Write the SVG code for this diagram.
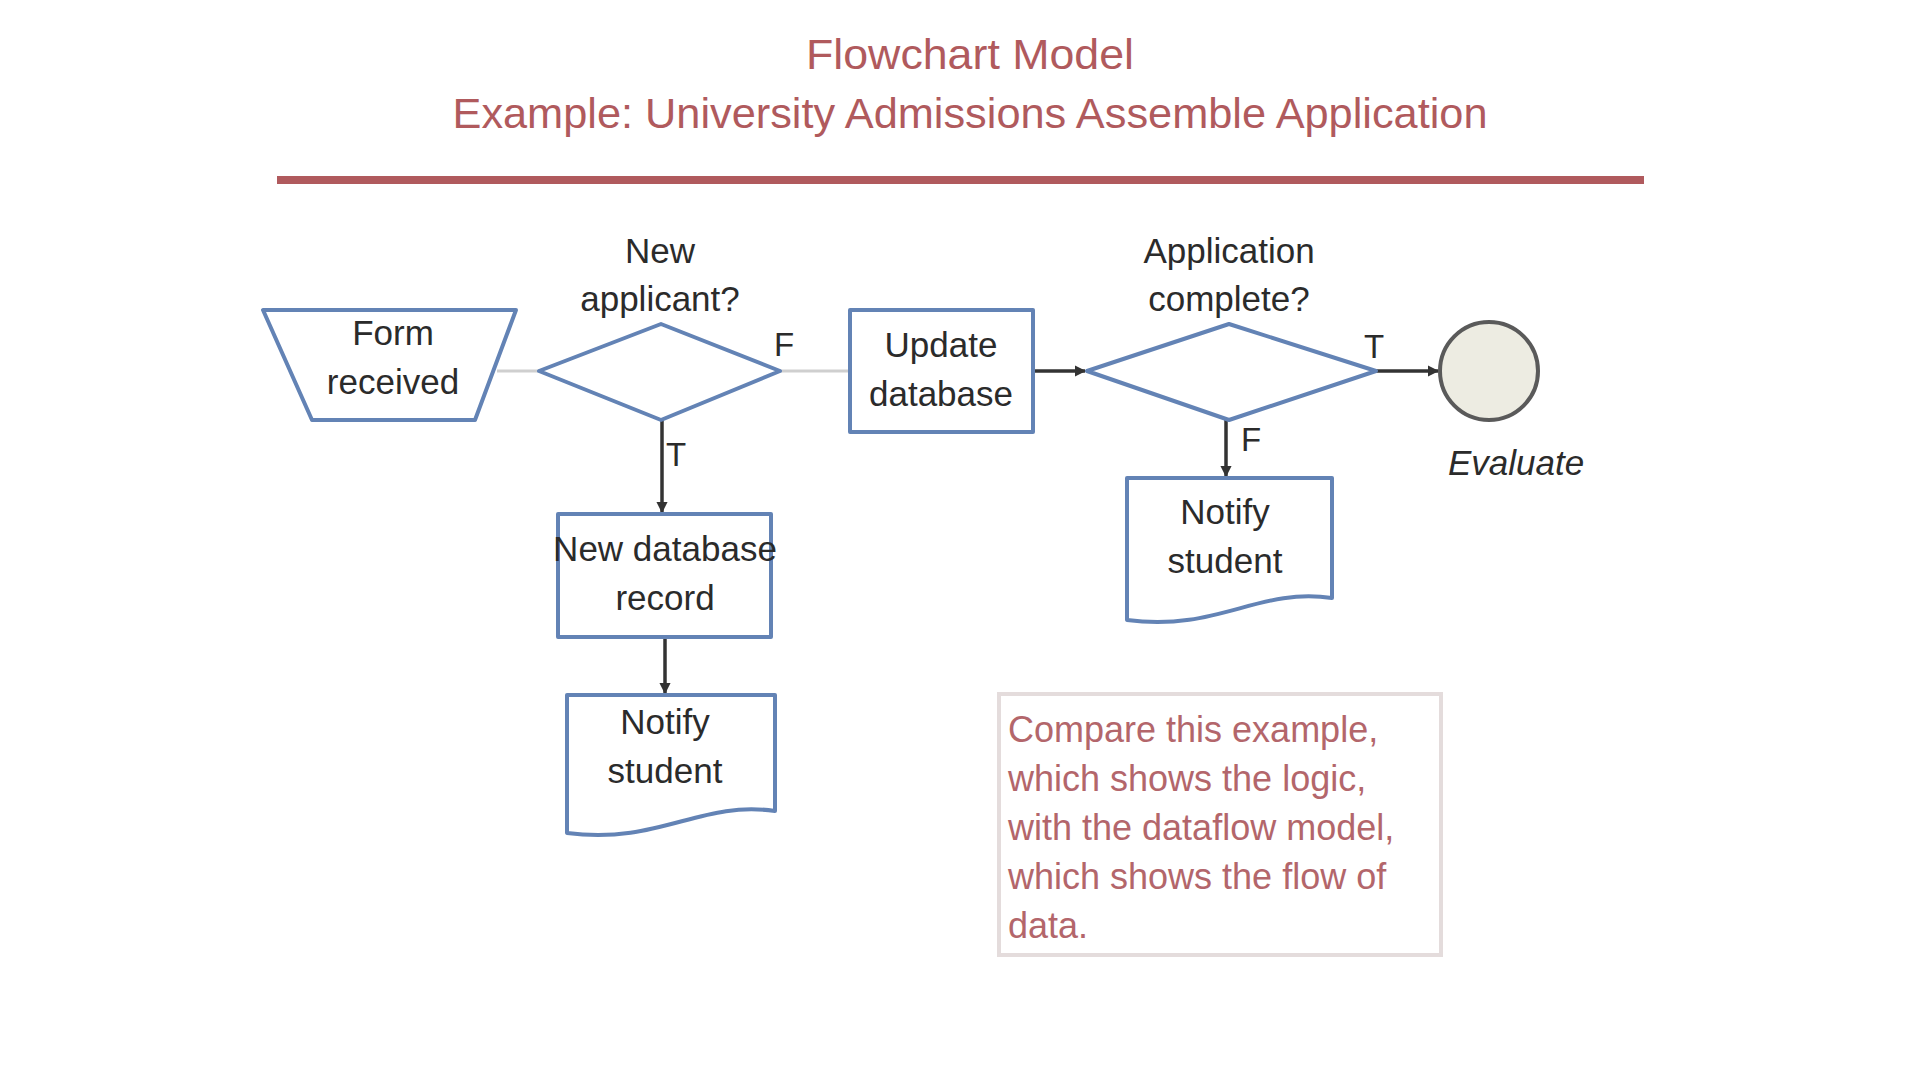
<svg xmlns="http://www.w3.org/2000/svg" width="1920" height="1080" viewBox="0 0 1920 1080">
<style>
.title{font-family:"Liberation Sans",Arial,sans-serif;fill:#b05a5d;text-anchor:middle}
.node{fill:#ffffff;stroke:#6383b5;stroke-width:4;stroke-linejoin:round}
.lbl{font-family:"Liberation Sans",Arial,sans-serif;font-size:35px;fill:#2b2b2b;text-anchor:middle}
.tf{font-family:"Liberation Sans",Arial,sans-serif;font-size:33px;fill:#2b2b2b;text-anchor:middle}
.conn{fill:none;stroke:#333333;stroke-width:3.5}
.conn-light{fill:none;stroke:#cfcfcf;stroke-width:3}
.note{font-family:"Liberation Sans",Arial,sans-serif;font-size:36px;fill:#b3666b}
</style>
<defs>
<marker id="arr" viewBox="0 0 10 10" refX="9" refY="5" markerWidth="3.2" markerHeight="3.2" orient="auto">
<path d="M0,0 L10,5 L0,10 z" fill="#333333"/>
</marker>
</defs>
<rect width="1920" height="1080" fill="#ffffff"/>
<g id="title">
<text class="title" x="970" y="69" font-size="42" textLength="328" lengthAdjust="spacingAndGlyphs">Flowchart Model</text>
<text class="title" x="970" y="128" font-size="42" textLength="1035" lengthAdjust="spacingAndGlyphs">Example: University Admissions Assemble Application</text>
<line x1="277" y1="180" x2="1644" y2="180" stroke="#b05a5d" stroke-width="8"/>
</g>
<g id="connectors">
<line class="conn-light" x1="497" y1="371" x2="539" y2="371"/>
<line class="conn-light" x1="780" y1="371" x2="850" y2="371"/>
<line class="conn" x1="1033" y1="371" x2="1085" y2="371" marker-end="url(#arr)"/>
<line class="conn" x1="1376" y1="371" x2="1438" y2="371" marker-end="url(#arr)"/>
<line class="conn" x1="662" y1="420" x2="662" y2="512" marker-end="url(#arr)"/>
<line class="conn" x1="665" y1="637" x2="665" y2="693" marker-end="url(#arr)"/>
<line class="conn" x1="1226" y1="420" x2="1226" y2="476" marker-end="url(#arr)"/>
<text class="tf" x="784" y="356">F</text>
<text class="tf" x="1374" y="358">T</text>
<text class="tf" x="676" y="466">T</text>
<text class="tf" x="1251" y="451">F</text>
</g>
<g id="form-received">
<polygon class="node" points="263,310 516,310 475,420 312,420"/>
<text class="lbl" x="393" y="345">Form</text>
<text class="lbl" x="393" y="394">received</text>
</g>
<g id="new-applicant">
<polygon class="node" points="539,371 661,324 780,371 661,420"/>
<text class="lbl" x="660" y="263">New</text>
<text class="lbl" x="660" y="311">applicant?</text>
</g>
<g id="update-database">
<rect class="node" x="850" y="310" width="183" height="122"/>
<text class="lbl" x="941" y="357">Update</text>
<text class="lbl" x="941" y="406">database</text>
</g>
<g id="application-complete">
<polygon class="node" points="1087,371 1229,324 1376,371 1229,420"/>
<text class="lbl" x="1229" y="263">Application</text>
<text class="lbl" x="1229" y="311">complete?</text>
</g>
<g id="evaluate">
<circle cx="1489" cy="371" r="49" fill="#edece2" stroke="#5a5a5a" stroke-width="4"/>
<text class="lbl" x="1516" y="475" font-style="italic">Evaluate</text>
</g>
<g id="new-database-record">
<rect class="node" x="558" y="514" width="213" height="123"/>
<text class="lbl" x="665" y="561">New database</text>
<text class="lbl" x="665" y="610">record</text>
</g>
<g id="notify-student-1">
<path class="node" d="M567,695 H775 V811 C700,800 660,845 567,833 Z"/>
<text class="lbl" x="665" y="734">Notify</text>
<text class="lbl" x="665" y="783">student</text>
</g>
<g id="notify-student-2">
<path class="node" d="M1127,478 H1332 V598 C1258,587 1218,632 1127,620 Z"/>
<text class="lbl" x="1225" y="524">Notify</text>
<text class="lbl" x="1225" y="573">student</text>
</g>
<g id="note">
<rect x="999" y="694" width="442" height="261" fill="#ffffff" stroke="#e4dcdc" stroke-width="4"/>
<text class="note" x="1008" y="742">Compare this example,</text>
<text class="note" x="1008" y="791">which shows the logic,</text>
<text class="note" x="1008" y="840">with the dataflow model,</text>
<text class="note" x="1008" y="889">which shows the flow of</text>
<text class="note" x="1008" y="938">data.</text>
</g>
</svg>
